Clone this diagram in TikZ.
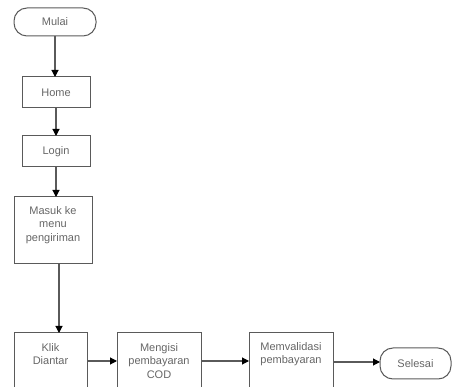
\documentclass[tikz,border=0pt]{standalone}
\usepackage{fontspec}
\setmainfont{Liberation Sans}
\usetikzlibrary{arrows.meta}
\definecolor{edgegray}{HTML}{5A5A5A}
\definecolor{textgray}{HTML}{666666}
\begin{document}
\begin{tikzpicture}[x=1pt,y=-1pt,
  every node/.style={font=\fontsize{11}{13.5}\selectfont, text=textgray, align=center},
  procbox/.style={draw=edgegray, line width=1pt, inner sep=0pt},
  termbox/.style={draw=edgegray, line width=1pt, rounded corners=13pt, inner sep=0pt},
  flow/.style={draw=edgegray, line width=1.1pt, -{Triangle[length=7pt,width=7pt,color=black]}}]
\useasboundingbox (0,0) rectangle (453,387);
\clip (0,0) rectangle (453,387);
% terminals
\draw[termbox] (14,8) rectangle (96,36);
\node (mulai) at (55,22) {Mulai};
\draw[termbox] (380,348) rectangle (451,379);
\node (selesai) at (415.5,363.5) {Selesai};
% process boxes
\draw[procbox] (22,77) rectangle (90,108);
\node (home) at (56,92.5) {Home};
\draw[procbox] (22,136) rectangle (90,167);
\node (login) at (56,151.5) {Login};
\draw[procbox] (14,197) rectangle (92,264);
\node (masuk) at (53,225) {Masuk ke\\menu\\pengiriman};
\draw[procbox] (14,333) rectangle (87,400);
\node (klik) at (50.5,354) {Klik\\Diantar};
\draw[procbox] (117,333) rectangle (201,400);
\node (mengisi) at (159,361) {Mengisi\\pembayaran\\COD};
\draw[procbox] (249,333) rectangle (333,400);
\node (memval) at (291,354) {Memvalidasi\\pembayaran};
% anchor points on the box edges
\coordinate (mulaiB) at (55,36);
\coordinate (homeT) at (55,77);
\coordinate (homeB) at (56,108);
\coordinate (loginT) at (56,136);
\coordinate (loginB) at (56,167);
\coordinate (masukT) at (56,197);
\coordinate (masukB) at (59,264);
\coordinate (klikT) at (59,333);
\coordinate (klikR) at (87,361);
\coordinate (mengisiL) at (117,361);
\coordinate (mengisiR) at (201,361);
\coordinate (memvalL) at (249,361);
\coordinate (memvalR) at (333,362);
\coordinate (selesaiL) at (380,362);
% connectors
\draw[flow] (mulaiB) -- (homeT);
\draw[flow] (homeB) -- (loginT);
\draw[flow] (loginB) -- (masukT);
\draw[flow] (masukB) -- (klikT);
\draw[flow] (klikR) -- (mengisiL);
\draw[flow] (mengisiR) -- (memvalL);
\draw[flow] (memvalR) -- (selesaiL);
\end{tikzpicture}
\end{document}
